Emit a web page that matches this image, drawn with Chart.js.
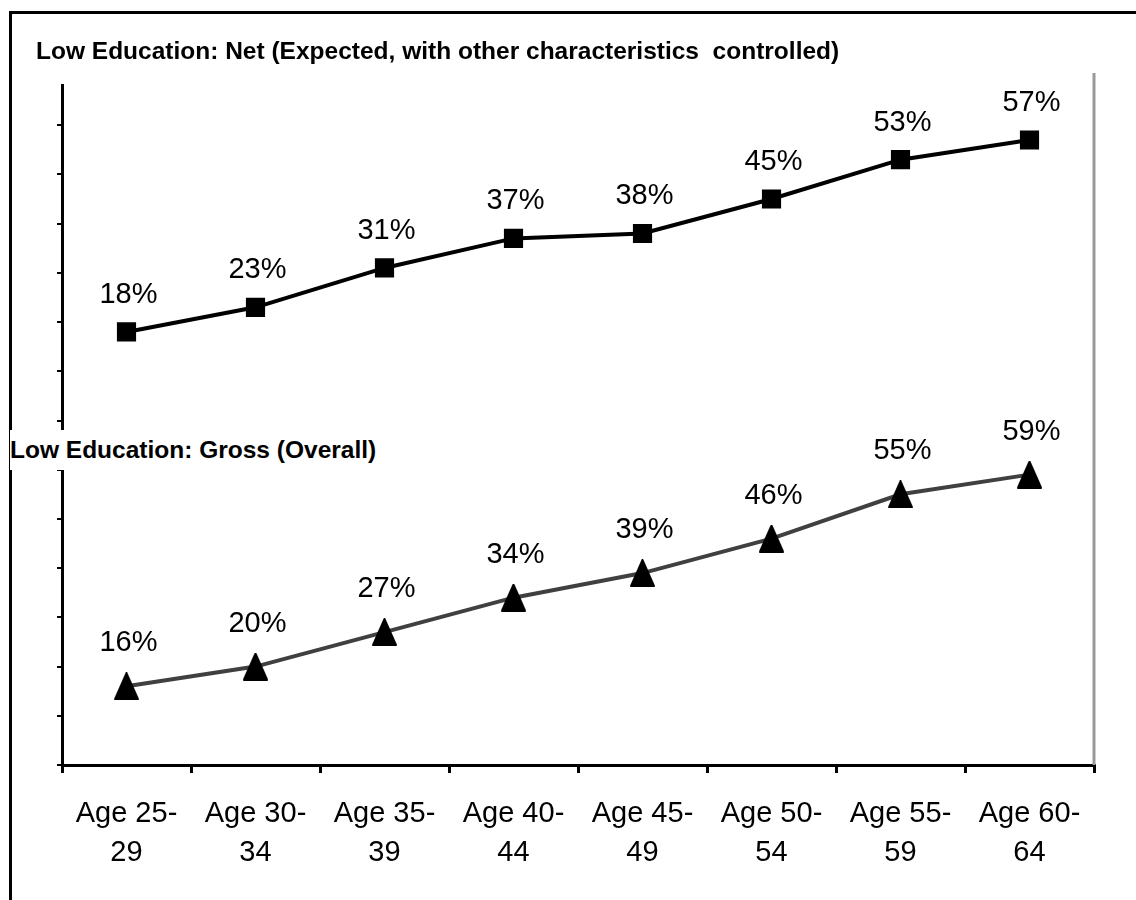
<!DOCTYPE html>
<html>
<head>
<meta charset="utf-8">
<script src="https://cdn.jsdelivr.net/npm/chart.js@4.4.1/dist/chart.umd.min.js"></script>
<style>
  body { margin: 0; background: #fff; }
  #wrap { position: relative; width: 1136px; height: 900px; overflow: hidden; }
  #frame { position: absolute; left: 9px; top: 11px; width: 1200px; height: 1000px;
           border-top: 3px solid #000; border-left: 3px solid #000; }
  canvas { position: absolute; left: 0; top: 0; }
  .sect { position: absolute; background: #fff; font-family: 'Liberation Sans', Arial, sans-serif;
          font-weight: bold; font-size: 24.5px; color: #000; white-space: pre; }
</style>
</head>
<body>
<div id="wrap">
  <div id="frame"></div>
  <canvas id="chart" width="1136" height="900"></canvas>
  <div class="sect" id="netTitle" style="left:36px; top:37px; height:47px;">Low Education: Net (Expected, with other characteristics  controlled)</div>
  <div class="sect" id="grossTitle" style="left:10px; top:430px; height:40px; line-height:40px; padding-right:4px;">Low Education: Gross (Overall)</div>
</div>
<script>
const ageGroups = [
  ['Age 25-', '29'], ['Age 30-', '34'], ['Age 35-', '39'], ['Age 40-', '44'],
  ['Age 45-', '49'], ['Age 50-', '54'], ['Age 55-', '59'], ['Age 60-', '64']
];
// percent values
const netValues = [18, 23, 31, 37, 38, 45, 53, 57];
const grossValues = [16, 20, 27, 34, 39, 46, 55, 59];

const FONT = "'Liberation Sans', Arial, sans-serif";

// Excel-like tall triangle marker
function triangleMarker(w, h) {
  const c = document.createElement('canvas');
  c.width = w; c.height = h;
  const g = c.getContext('2d');
  g.fillStyle = '#000';
  g.strokeStyle = '#000';
  g.lineJoin = 'round';
  g.lineWidth = 2;
  g.beginPath();
  g.moveTo(w / 2, 1);
  g.lineTo(w - 1, h - 1);
  g.lineTo(1, h - 1);
  g.closePath();
  g.fill();
  g.stroke();
  return c;
}

const pctLabels = {
  id: 'pctLabels',
  afterDatasetsDraw(chart) {
    const ctx = chart.ctx;
    ctx.save();
    ctx.font = '29px ' + FONT;
    ctx.fillStyle = '#000';
    ctx.textAlign = 'center';
    ctx.textBaseline = 'middle';
    chart.data.datasets.forEach((ds, i) => {
      const meta = chart.getDatasetMeta(i);
      meta.data.forEach((pt, j) => {
        ctx.fillText(ds.data[j] + '%', pt.x + 2, pt.y - ds.labelGap);
      });
    });
    ctx.restore();
  }
};

const rightEdge = {
  id: 'rightEdge',
  beforeDatasetsDraw(chart) {
    const a = chart.chartArea;
    const ctx = chart.ctx;
    ctx.save();
    ctx.strokeStyle = '#999';
    ctx.lineWidth = 3;
    ctx.beginPath();
    ctx.moveTo(a.right, a.top - 3);
    ctx.lineTo(a.right, a.bottom);
    ctx.stroke();
    ctx.restore();
  }
};

const yAxis = {
  type: 'linear', position: 'left', stack: 'v', stackWeight: 1,
  min: 0, max: 70,
  ticks: { display: false, stepSize: 10 },
  grid: { drawOnChartArea: false, drawTicks: true, tickLength: 5, color: '#000', lineWidth: 2 },
  border: { color: '#000', width: 3 },
  afterFit: s => { s.width = 62; }
};

new Chart(document.getElementById('chart'), {
  type: 'line',
  data: {
    labels: ageGroups,
    datasets: [
      {
        label: 'Gross',
        data: grossValues,
        yAxisID: 'yGross',
        borderColor: '#404040',
        borderWidth: 4,
        pointStyle: triangleMarker(25, 28),
        labelGap: 43
      },
      {
        label: 'Net',
        data: netValues,
        yAxisID: 'yNet',
        borderColor: '#000',
        borderWidth: 4,
        pointStyle: 'rect',
        pointRadius: 12.5,
        pointBackgroundColor: '#000',
        pointBorderColor: '#000',
        pointBorderWidth: 1.5,
        labelGap: 37
      }
    ]
  },
  options: {
    responsive: false,
    animation: false,
    layout: { padding: { left: 0, right: 42, top: 76, bottom: 0 } },
    plugins: { legend: { display: false }, tooltip: { enabled: false } },
    elements: { line: { tension: 0 } },
    scales: {
      x: {
        type: 'category',
        offset: true,
        grid: { offset: true, drawOnChartArea: false, tickLength: 8, color: '#000', lineWidth: 3 },
        border: { color: '#000', width: 3 },
        ticks: { color: '#000', font: { family: FONT, size: 29, lineHeight: 1.34 }, padding: 22, maxRotation: 0 },
        afterFit: s => { s.height = 135; }
      },
      yGross: Object.assign({}, yAxis),
      yNet: Object.assign({}, yAxis)
    }
  },
  plugins: [pctLabels, rightEdge]
});
</script>
</body>
</html>
